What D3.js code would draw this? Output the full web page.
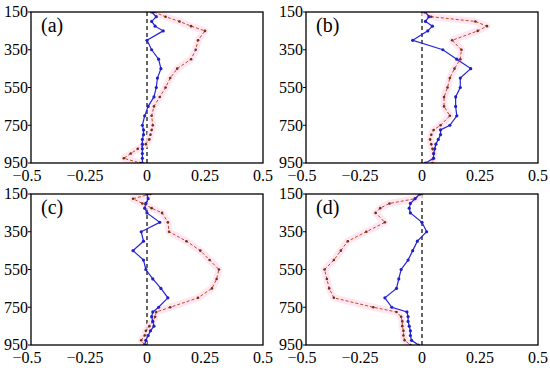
<!DOCTYPE html>
<html>
<head>
<meta charset="utf-8">
<script src="https://cdn.jsdelivr.net/npm/d3@7"></script>
<style>
  body { margin: 0; background: #fff; }
  svg { display: block; }
  text { font-family: "Liberation Serif", "Times New Roman", serif; }
</style>
</head>
<body>
<svg id="chart" width="550" height="368"></svg>
<script>
// pressure levels (hPa), shared by all panels
const levels = [150, 175, 200, 225, 250, 300, 350, 400, 450, 500, 550, 600, 650, 700, 750, 775, 800, 825, 850, 875, 900, 925, 950];
const yTicks = [150, 350, 550, 750, 950];
const xTicks = [-0.5, -0.25, 0, 0.25, 0.5];
const panelNames = ['(a)', '(b)', '(c)', '(d)'];

// blue solid series
const blueA = [0.02, 0.04, 0.02, 0.035, 0.07, 0.0, 0.02, 0.05, 0.06, 0.045, 0.04, 0.03, 0.005, -0.01, -0.02, -0.015, -0.015, -0.02, -0.02, -0.02, -0.02, -0.02, -0.02];
const blueB = [0.015, 0.03, 0.015, 0.045, 0.025, -0.04, 0.09, 0.15, 0.21, 0.165, 0.165, 0.145, 0.145, 0.15, 0.12, 0.08, 0.08, 0.07, 0.06, 0.055, 0.05, 0.05, 0.015];
const blueC = [0.0, 0.005, -0.005, -0.01, 0.0, 0.055, -0.025, -0.015, -0.06, -0.015, -0.005, 0.025, 0.06, 0.09, 0.05, 0.025, 0.02, 0.025, 0.03, 0.015, 0.005, -0.005, -0.01];
const blueD = [-0.01, -0.03, -0.05, -0.055, -0.05, 0.0, 0.02, -0.02, -0.04, -0.06, -0.09, -0.1, -0.11, -0.16, -0.13, -0.065, -0.06, -0.06, -0.055, -0.05, -0.05, -0.045, -0.015];

// red dashed series
const redA = [0.03, 0.08, 0.14, 0.19, 0.25, 0.22, 0.21, 0.19, 0.13, 0.1, 0.08, 0.055, 0.03, 0.02, 0.025, 0.02, 0.015, 0.01, -0.005, -0.04, -0.07, -0.1, -0.03];
const redB = [0.0, 0.04, 0.23, 0.28, 0.24, 0.13, 0.17, 0.165, 0.14, 0.12, 0.11, 0.095, 0.095, 0.12, 0.08, 0.05, 0.04, 0.035, 0.04, 0.045, 0.05, 0.048, 0.045];
const redC = [0.015, -0.06, -0.02, 0.02, 0.065, 0.09, 0.095, 0.17, 0.23, 0.27, 0.31, 0.3, 0.28, 0.22, 0.1, 0.04, 0.035, 0.025, 0.01, -0.005, -0.01, -0.025, -0.01];
const redD = [0.0, -0.03, -0.14, -0.18, -0.2, -0.16, -0.24, -0.32, -0.35, -0.38, -0.42, -0.41, -0.4, -0.38, -0.21, -0.11, -0.09, -0.085, -0.085, -0.08, -0.08, -0.075, -0.05];

const blueSeries = [blueA, blueB, blueC, blueD];
const redSeries = [redA, redB, redC, redD];

const svg = d3.select('#chart');

// plot-area boxes [left, top]
const boxes = [[31, 12], [306, 12], [31, 194], [306, 194]];
const plotW = 232, plotH = 151;

const formatTick = v => {
    if (v === 0) return '0';
    return Math.abs(v).toString();
};

boxes.forEach((b, i) => {
    const g = svg.append('g').attr('transform', `translate(${b[0]},${b[1]})`);
    const x = d3.scaleLinear().domain([-0.5, 0.5]).range([0, plotW]);
    const y = d3.scaleLinear().domain([150, 950]).range([0, plotH]);

    const clipId = 'clip' + i;
    g.append('clipPath').attr('id', clipId)
        .append('rect').attr('width', plotW).attr('height', plotH);

    const inner = g.append('g').attr('clip-path', `url(#${clipId})`);

    // zero line
    inner.append('line')
        .attr('x1', x(0)).attr('x2', x(0))
        .attr('y1', 0).attr('y2', plotH)
        .attr('stroke', '#000').attr('stroke-width', 1.2)
        .attr('stroke-dasharray', '4,3');

    const line = d3.line()
        .x(d => x(d.v))
        .y(d => y(d.p));

    const red = levels.map((p, k) => ({p: p, v: redSeries[i][k]}));
    const blue = levels.map((p, k) => ({p: p, v: blueSeries[i][k]}));

    // pale pink band behind the red profile
    inner.append('path').datum(red)
        .attr('d', line)
        .attr('fill', 'none')
        .attr('stroke', '#ffe0f0')
        .attr('stroke-width', 7)
        .attr('stroke-linejoin', 'round')
        .attr('opacity', 0.8);

    inner.append('path').datum(red)
        .attr('d', line)
        .attr('fill', 'none')
        .attr('stroke', '#c04a1c')
        .attr('stroke-width', 1)
        .attr('stroke-dasharray', '3,2');

    inner.selectAll('.redDot').data(red).enter()
        .append('circle')
        .attr('class', 'redDot')
        .attr('cx', d => x(d.v)).attr('cy', d => y(d.p))
        .attr('r', 1.3)
        .attr('fill', '#6e3018');

    inner.append('path').datum(blue)
        .attr('d', line)
        .attr('fill', 'none')
        .attr('stroke', '#2424d8')
        .attr('stroke-width', 1.2);

    inner.selectAll('.blueDot').data(blue).enter()
        .append('circle')
        .attr('class', 'blueDot')
        .attr('cx', d => x(d.v)).attr('cy', d => y(d.p))
        .attr('r', 1.6)
        .attr('fill', '#2020c8');

    // frame
    g.append('rect')
        .attr('width', plotW).attr('height', plotH)
        .attr('fill', 'none').attr('stroke', '#000').attr('stroke-width', 1.3);

    // short outward y ticks
    g.selectAll('.ytick').data(yTicks).enter()
        .append('line')
        .attr('class', 'ytick')
        .attr('x1', -3).attr('x2', 0)
        .attr('y1', d => y(d)).attr('y2', d => y(d))
        .attr('stroke', '#000').attr('stroke-width', 1);

    // y tick labels
    g.selectAll('.ylab').data(yTicks).enter()
        .append('text')
        .attr('class', 'ylab')
        .attr('x', -3).attr('y', d => y(d))
        .attr('dy', '0.33em')
        .attr('text-anchor', 'end')
        .attr('font-size', 16)
        .text(d => d);

    // x tick labels, minus sign drawn in blue
    const xl = g.selectAll('.xlab').data(xTicks).enter()
        .append('text')
        .attr('class', 'xlab')
        .attr('x', d => x(d) + (d < 0 ? -4 : 0))
        .attr('y', plotH + 18)
        .attr('text-anchor', 'middle')
        .attr('font-size', 16);
    xl.filter(d => d < 0).append('tspan').attr('fill', '#2838a8').text('\u2212');
    xl.append('tspan').text(d => formatTick(d));

    // panel label
    g.append('text')
        .attr('x', 10).attr('y', 20)
        .attr('font-size', 20)
        .text(panelNames[i]);
});
</script>
</body>
</html>
